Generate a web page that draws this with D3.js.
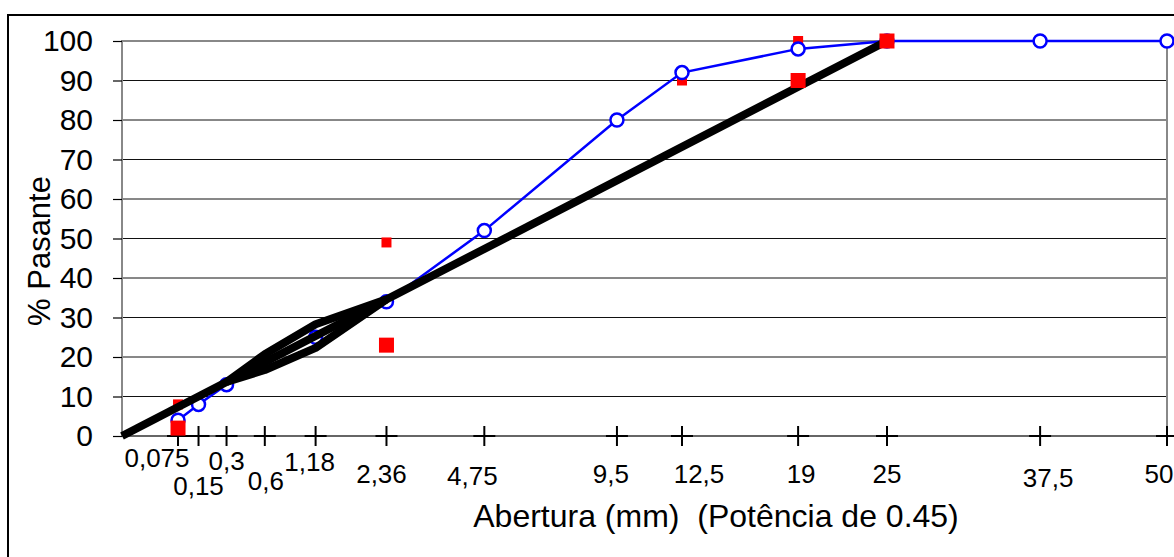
<!DOCTYPE html>
<html>
<head>
<meta charset="utf-8">
<script src="https://cdn.jsdelivr.net/npm/d3@7"></script>
<style>
  body { margin: 0; background: #fff; }
  svg { display: block; font-family: "Liberation Sans", Arial, sans-serif; }
</style>
</head>
<body>
<script>
var width = 1174, height = 557;

// sieve openings (mm) shown on the x axis
var sieves = [0.075, 0.15, 0.3, 0.6, 1.18, 2.36, 4.75, 9.5, 12.5, 19, 25, 37.5, 50];
var sieveLabels = ["0,075", "0,15", "0,3", "0,6", "1,18", "2,36", "4,75", "9,5", "12,5", "19", "25", "37,5", "50"];
var yTicks = [0, 10, 20, 30, 40, 50, 60, 70, 80, 90, 100];

// gradation curve (% passing)
var gradSizes = [0.075, 0.15, 0.3, 0.6, 1.18, 2.36, 4.75, 9.5, 12.5, 19, 25, 37.5, 50];
var gradPass = [4, 8, 13, 18.5, 25, 34, 52, 80, 92, 98, 100, 100, 100];

// maximum density line
var mdlSizes = [0, 25];
var mdlPass = [0, 100];

// restricted zone
var rzSizes = [0.3, 0.6, 1.18, 2.36];
var rzUpper = [13.7, 20.7, 28.3, 34.6];
var rzLower = [13.7, 16.7, 22.3, 34.6];

// control points
var cpUpperSizes = [0.075, 2.36, 12.5, 19];
var cpUpper = [8, 49, 90, 100];
var cpLowerSizes = [0.075, 2.36, 19, 25];
var cpLower = [2, 23, 90, 100];

var m = { left: 122, right: 1167, top: 41, bottom: 436 };

var x = d3.scalePow().exponent(0.45).domain([0, 50]).range([m.left, m.right]);
var y = d3.scaleLinear().domain([0, 100]).range([m.bottom, m.top]);

var svg = d3.select("body").append("svg")
  .attr("width", width)
  .attr("height", height);

// outer frame (runs off the right and bottom edges)
svg.append("rect")
  .attr("x", 8).attr("y", 15)
  .attr("width", 1200).attr("height", 600)
  .attr("fill", "none").attr("stroke", "#000").attr("stroke-width", 2);

// grid lines
svg.append("g").selectAll("line").data(yTicks.slice(1, -1))
  .enter().append("line")
  .attr("x1", m.left).attr("x2", m.right)
  .attr("y1", function(d) { return y(d); })
  .attr("y2", function(d) { return y(d); })
  .attr("stroke", "#111").attr("stroke-width", 1);

// plot area border (gray)
svg.append("path")
  .attr("d", "M" + m.left + "," + m.bottom + "V" + m.top + "H" + m.right + "V" + m.bottom)
  .attr("fill", "none").attr("stroke", "#888").attr("stroke-width", 2);

// y axis
var yAxis = svg.append("g")
  .attr("transform", "translate(" + m.left + ",0)")
  .call(d3.axisLeft(y).tickValues(yTicks).tickSize(9).tickPadding(20));
yAxis.select(".domain").remove();
yAxis.selectAll(".tick line").attr("stroke", "#000").attr("stroke-width", 1.2);
yAxis.selectAll(".tick text")
  .attr("font-family", "Liberation Sans, Arial, sans-serif")
  .attr("font-size", 30).attr("fill", "#000");

// x axis line and cross ticks
svg.append("line")
  .attr("x1", m.left).attr("x2", m.right)
  .attr("y1", m.bottom).attr("y2", m.bottom)
  .attr("stroke", "#333").attr("stroke-width", 1.5);

var xt = svg.append("g").selectAll("g").data(sieves)
  .enter().append("g")
  .attr("transform", function(d) { return "translate(" + x(d) + "," + m.bottom + ")"; });
xt.append("line").attr("x1", -11).attr("x2", 11)
  .attr("stroke", "#000").attr("stroke-width", 2);
xt.append("line").attr("y1", -10).attr("y2", 10)
  .attr("stroke", "#000").attr("stroke-width", 2);

// label placement as in the original (staggered, nudged)
var nudge = [[-21, 31], [0, 59], [0, 34], [1, 54], [-6, 35], [-5, 47],
             [-12, 49], [-6, 47], [17, 47], [3, 47], [0, 47], [8, 51], [-8, 47]];

svg.append("g").selectAll("text").data(sieves)
  .enter().append("text")
  .attr("x", function(d, i) { return x(d) + nudge[i][0]; })
  .attr("y", function(d, i) { return m.bottom + nudge[i][1]; })
  .attr("text-anchor", "middle")
  .attr("font-size", 26)
  .text(function(d, i) { return sieveLabels[i]; });

// axis titles
svg.append("text")
  .attr("x", 716).attr("y", 527)
  .attr("text-anchor", "middle")
  .attr("font-size", 32)
  .style("white-space", "pre")
  .text("Abertura (mm)  (Potência de 0.45)");

svg.append("text")
  .attr("transform", "translate(50,251) rotate(-90)")
  .attr("text-anchor", "middle")
  .attr("font-size", 31)
  .text("% Pasante");

function pairs(xs, ys) {
  return xs.map(function(d, i) { return [d, ys[i]]; });
}

var line = d3.line()
  .x(function(d) { return x(d[0]); })
  .y(function(d) { return y(d[1]); });

function squares(data, size) {
  svg.append("g").selectAll("rect").data(data)
    .enter().append("rect")
    .attr("x", function(d) { return x(d[0]) - size / 2; })
    .attr("y", function(d) { return y(d[1]) - size / 2; })
    .attr("width", size).attr("height", size)
    .attr("fill", "#FF0000");
}

// upper control points (small)
squares(pairs(cpUpperSizes, cpUpper), 10);

// gradation
var grad = pairs(gradSizes, gradPass);
svg.append("path").datum(grad)
  .attr("d", line)
  .attr("fill", "none").attr("stroke", "#0000FF").attr("stroke-width", 2.5);
svg.append("g").selectAll("circle").data(grad)
  .enter().append("circle")
  .attr("cx", function(d) { return x(d[0]); })
  .attr("cy", function(d) { return y(d[1]); })
  .attr("r", 6.5)
  .attr("fill", "#fff").attr("stroke", "#0000FF").attr("stroke-width", 2.5);

// max density line and restricted zone
[pairs(mdlSizes, mdlPass), pairs(rzSizes, rzUpper), pairs(rzSizes, rzLower)]
  .forEach(function(p) {
    svg.append("path").datum(p)
      .attr("d", line)
      .attr("fill", "none").attr("stroke", "#000")
      .attr("stroke-width", 8).attr("stroke-linejoin", "round");
  });

// lower control points (large)
squares(pairs(cpLowerSizes, cpLower), 15);
</script>
</body>
</html>
